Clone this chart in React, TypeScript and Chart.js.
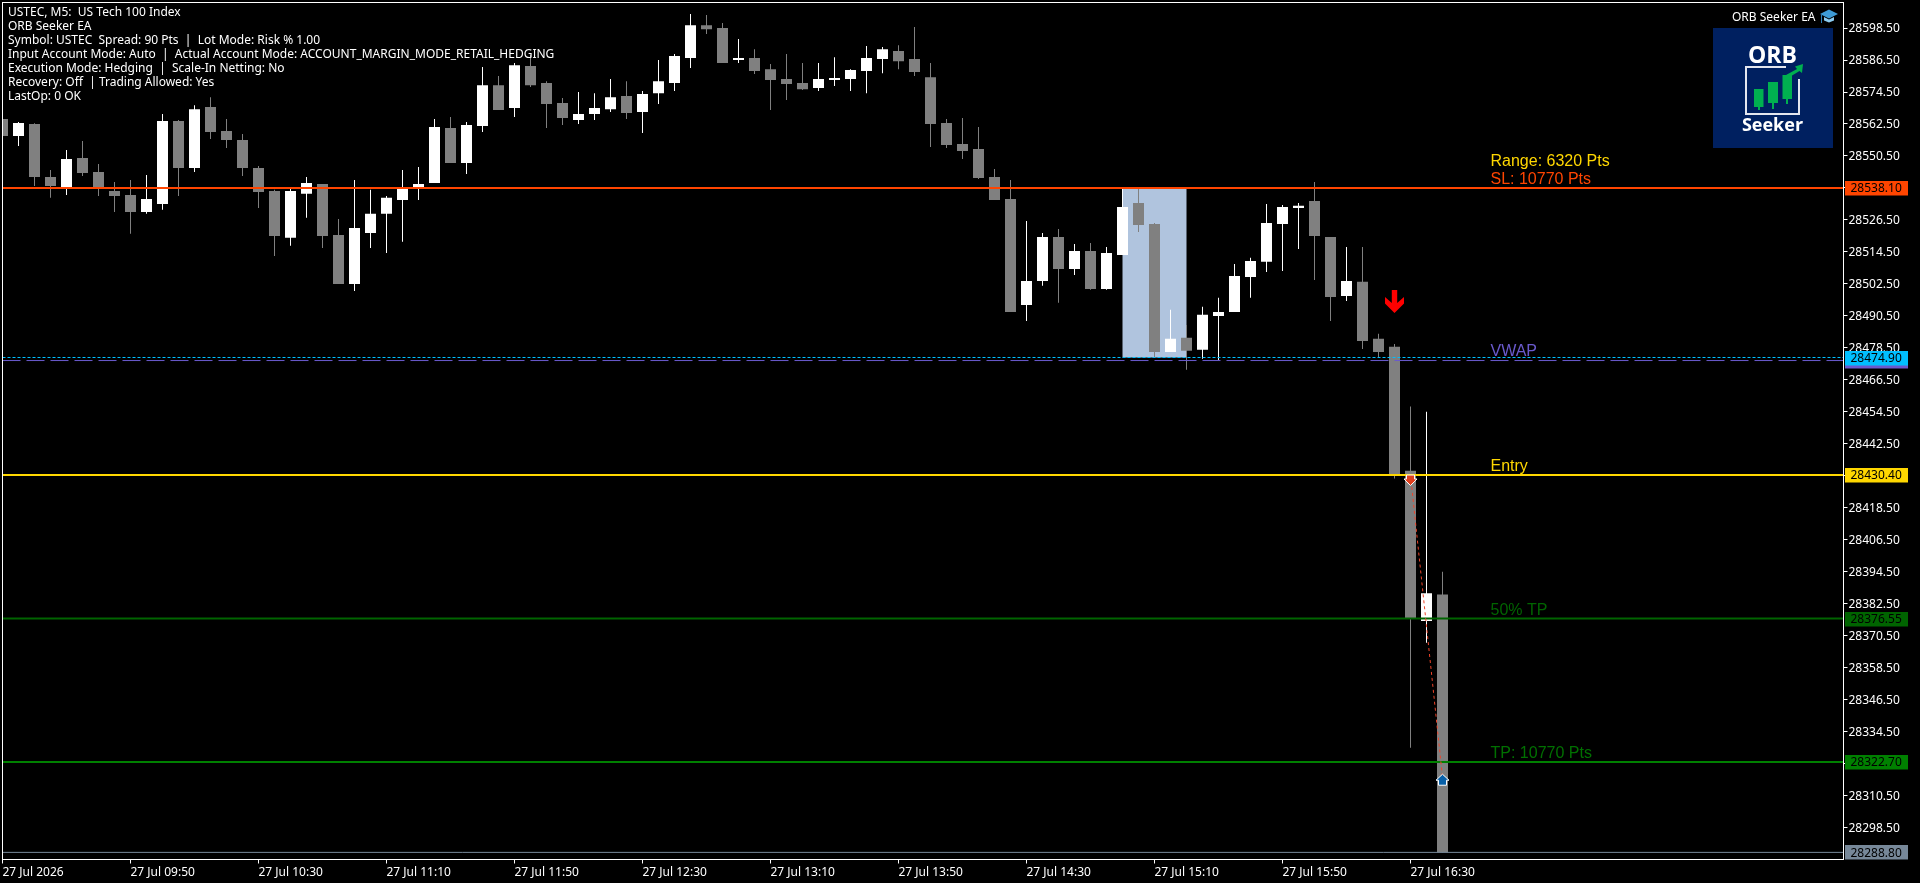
import React, { useEffect, useRef } from "react";
import { Chart, registerables } from "chart.js";

Chart.register(...registerables);

const opens = [28564.0,28557.6,28562.1,28542.2,28538.5,28549.4,28544.1,28537.0,28535.5,28529.1,28532.1,28563.2,28545.6,28568.5,28559.5,28556.1,28545.6,28537.0,28519.4,28535.9,28539.6,28520.5,28502.1,28521.2,28528.4,28533.6,28537.7,28540.0,28560.6,28547.5,28561.4,28576.7,28568.1,28583.9,28577.5,28570.0,28563.6,28565.9,28567.7,28572.6,28566.6,28573.7,28577.5,28586.9,28599.2,28598.1,28586.1,28586.9,28582.7,28579.0,28577.5,28575.6,28578.6,28579.0,28582.0,28586.5,28589.5,28586.5,28579.7,28562.5,28554.6,28552.7,28542.2,28534.0,28494.2,28503.2,28519.7,28507.7,28514.5,28500.2,28513.0,28532.5,28524.6,28476.6,28481.9,28477.4,28490.1,28491.6,28504.7,28510.4,28524.6,28530.6,28533.2,28519.7,28497.6,28502.9,28481.5,28478.5,28432.0,28375.6,28385.6];
const highs = [28564.0,28562.9,28562.4,28544.9,28552.4,28555.7,28547.1,28540.4,28541.1,28543.0,28565.9,28563.6,28569.2,28572.2,28564.0,28558.4,28546.4,28537.4,28537.7,28542.2,28539.6,28526.5,28541.1,28537.4,28535.1,28544.9,28546.0,28564.0,28564.7,28562.9,28583.5,28580.1,28585.0,28588.0,28578.2,28571.9,28574.1,28573.7,28579.0,28578.2,28574.5,28586.1,28588.4,28603.4,28603.0,28600.0,28594.0,28590.2,28584.6,28588.4,28585.0,28585.0,28587.2,28582.7,28591.4,28591.0,28591.7,28598.5,28585.0,28564.0,28564.4,28561.0,28545.2,28541.1,28525.7,28521.2,28522.7,28517.1,28517.5,28516.0,28538.1,28538.1,28525.0,28492.4,28486.7,28493.5,28496.9,28509.6,28511.9,28532.1,28531.7,28532.5,28540.4,28519.7,28516.0,28516.0,28483.4,28479.6,28456.1,28454.1,28394.1];
const lows = [28557.6,28553.9,28538.9,28534.4,28535.5,28542.6,28535.1,28529.1,28520.9,28528.4,28529.9,28535.1,28544.1,28556.5,28553.1,28542.6,28530.6,28512.6,28516.4,28526.9,28515.6,28502.1,28499.5,28515.6,28513.7,28517.9,28533.6,28540.0,28547.5,28543.4,28559.1,28567.4,28564.7,28576.0,28560.6,28561.7,28562.1,28563.6,28566.6,28564.0,28558.7,28569.6,28574.5,28583.1,28595.9,28585.0,28585.0,28580.9,28567.4,28571.1,28574.9,28574.5,28576.4,28574.5,28573.7,28581.2,28582.7,28580.1,28553.5,28553.1,28549.0,28541.5,28533.6,28491.6,28488.2,28501.4,28495.0,28505.5,28499.9,28499.9,28513.0,28521.6,28474.7,28476.6,28469.9,28474.0,28473.6,28491.6,28496.9,28506.6,28507.0,28515.2,28503.6,28488.2,28495.7,28477.7,28474.4,28429.1,28328.1,28367.5,28288.8];
const closes = [28557.6,28562.5,28542.2,28538.9,28549.0,28543.7,28538.5,28535.1,28529.1,28534.0,28563.2,28545.6,28567.7,28559.1,28556.1,28545.6,28536.6,28520.1,28537.0,28540.0,28520.1,28502.1,28523.1,28528.4,28534.4,28537.7,28539.6,28561.0,28547.5,28561.7,28576.7,28567.4,28584.2,28576.7,28569.6,28564.4,28565.9,28568.1,28572.2,28566.2,28573.4,28578.2,28587.6,28599.2,28597.7,28585.0,28586.9,28582.0,28578.6,28577.1,28575.2,28579.0,28579.4,28582.4,28586.9,28590.2,28585.7,28581.6,28562.1,28554.2,28552.0,28541.9,28533.6,28491.6,28503.2,28519.7,28507.7,28514.5,28500.2,28513.7,28531.0,28524.2,28476.6,28481.5,28477.0,28490.5,28491.6,28505.1,28510.7,28525.0,28531.0,28531.4,28520.1,28497.2,28503.2,28480.7,28476.6,28430.6,28376.6,28386.0,28288.8];

const xTickIndex = [0, 8, 16, 24, 32, 40, 48, 56, 64, 72, 80, 88];
const xTickLabels = ["27 Jul 2026","27 Jul 09:50","27 Jul 10:30","27 Jul 11:10","27 Jul 11:50","27 Jul 12:30","27 Jul 13:10","27 Jul 13:50","27 Jul 14:30","27 Jul 15:10","27 Jul 15:50","27 Jul 16:30"];
const yTickValues = [28298.5,28310.5,28322.5,28334.5,28346.5,28358.5,28370.5,28382.5,28394.5,28406.5,28418.5,28430.5,28442.5,28454.5,28466.5,28478.5,28490.5,28502.5,28514.5,28526.5,28538.5,28550.5,28562.5,28574.5,28586.5,28598.5];

const slPrice = 28538.1;
const vwapPrice = 28473.36;
const rangeLowPrice = 28474.5;
const entryPrice = 28430.4;
const halfTpPrice = 28376.55;
const tpPrice = 28322.7;
const lastPrice = 28288.8;
const exitPrice = 28317.0;
const signalArrowPrice = 28499.8;
const rangeBarIndex = 72;
const signalIndex = 87;
const entryIndex = 88;
const exitIndex = 90;

const infoLines = [
  "USTEC, M5:  US Tech 100 Index",
  "ORB Seeker EA",
  "Symbol: USTEC  Spread: 90 Pts  |  Lot Mode: Risk % 1.00",
  "Input Account Mode: Auto  |  Actual Account Mode: ACCOUNT_MARGIN_MODE_RETAIL_HEDGING",
  "Execution Mode: Hedging  |  Scale-In Netting: No",
  "Recovery: Off  | Trading Allowed: Yes",
  "LastOp: 0 OK",
];

const levelTexts = [
  { text: "Range: 6320 Pts", color: "#FFD700", y: 161.5 },
  { text: "SL: 10770 Pts", color: "#FF4500", y: 179.5 },
  { text: "VWAP", color: "#6A5ACD", y: 351.5 },
  { text: "Entry", color: "#FFD700", y: 466.5 },
  { text: "50% TP", color: "#006400", y: 610.5 },
  { text: "TP: 10770 Pts", color: "#007000", y: 753.5 },
];

const priceTags = [
  { text: "", price: vwapPrice, bg: "#6A5ACD" },
  { text: "28538.10", price: slPrice, bg: "#FF4500" },
  { text: "28474.90", price: rangeLowPrice, bg: "#00BFFF" },
  { text: "28430.40", price: entryPrice, bg: "#FFD700" },
  { text: "28376.55", price: halfTpPrice, bg: "#006400" },
  { text: "28322.70", price: tpPrice, bg: "#008000" },
  { text: "28288.80", price: lastPrice, bg: "#778899" },
];

const UI_FONT = '"Noto Sans", sans-serif';
const WHITE = "#FFFFFF";
const GREY = "#808080";

const poly = (ctx: CanvasRenderingContext2D, pts: number[][]) => {
  ctx.beginPath();
  pts.forEach(([a, b], i) => (i ? ctx.lineTo(a, b) : ctx.moveTo(a, b)));
  ctx.closePath();
};

const overlay = {
  id: "overlay",
  afterDraw(chart: any) {
    const { ctx, chartArea: ca, scales } = chart;
    const X = (v: number) => scales.x.getPixelForValue(v);
    const Y = (v: number) => scales.y.getPixelForValue(v);
    ctx.save();

    // signal arrow
    const sx = X(signalIndex);
    const sy = Y(signalArrowPrice);
    ctx.fillStyle = "#FF0000";
    poly(ctx, [[sx - 2.7, sy], [sx + 2.7, sy], [sx + 2.7, sy + 13], [sx + 9.5, sy + 7], [sx + 9.5, sy + 13.5], [sx, sy + 23], [sx - 9.5, sy + 13.5], [sx - 9.5, sy + 7], [sx - 2.7, sy + 13]]);
    ctx.fill();

    // entry marker
    const ex = X(entryIndex);
    const ey = Y(entryPrice);
    ctx.fillStyle = "#E0401F";
    ctx.strokeStyle = WHITE;
    ctx.lineWidth = 1;
    poly(ctx, [[ex - 4, ey], [ex + 4, ey], [ex + 4, ey + 4], [ex + 6.5, ey + 4], [ex, ey + 10.5], [ex - 6.5, ey + 4], [ex - 4, ey + 4]]);
    ctx.fill();
    ctx.stroke();

    // exit marker
    const xx = X(exitIndex);
    const xy = Y(exitPrice) - 3;
    ctx.fillStyle = "#0860A8";
    poly(ctx, [[xx, xy], [xx + 6.5, xy + 6], [xx + 4, xy + 6], [xx + 4, xy + 11], [xx - 4, xy + 11], [xx - 4, xy + 6], [xx - 6.5, xy + 6]]);
    ctx.fill();
    ctx.stroke();

    // plot frame
    ctx.strokeStyle = WHITE;
    ctx.lineWidth = 1;
    ctx.strokeRect(ca.left, ca.top, ca.right - ca.left, ca.bottom - ca.top);

    // price tags
    ctx.textBaseline = "middle";
    ctx.textAlign = "left";
    ctx.font = `12px ${UI_FONT}`;
    priceTags.forEach((t) => {
      const y = Y(t.price);
      ctx.fillStyle = t.bg;
      ctx.fillRect(1845, Math.round(y) - 7, 63, 14.5);
      if (t.text) {
        ctx.fillStyle = "#000000";
        ctx.fillText(t.text, 1850.5, y + 1);
      }
    });

    // info block
    ctx.fillStyle = WHITE;
    infoLines.forEach((line, i) => ctx.fillText(line, 8, 12.5 + 14 * i));
    ctx.fillText("ORB Seeker EA", 1732, 17.5);

    // graduation cap
    ctx.fillStyle = "#3E9BD6";
    poly(ctx, [[1820, 14], [1829, 9.5], [1838, 14], [1829, 18.5]]);
    ctx.fill();
    ctx.fillStyle = "#8CCBEF";
    poly(ctx, [[1824, 17], [1829, 19.5], [1834, 17], [1834, 20.5], [1829, 22.5], [1824, 20.5]]);
    ctx.fill();
    ctx.fillStyle = "#2C7FB8";
    ctx.fillRect(1821, 15, 1, 8);

    // level captions
    ctx.font = '16px "Liberation Sans", sans-serif';
    levelTexts.forEach((t) => {
      ctx.fillStyle = t.color;
      ctx.fillText(t.text, 1490.5, t.y);
    });

    // logo
    ctx.fillStyle = "#002060";
    ctx.fillRect(1713, 28, 120, 120);
    ctx.fillStyle = WHITE;
    ctx.textAlign = "center";
    ctx.font = 'bold 23px "Open Sans", sans-serif';
    ctx.fillText("ORB", 1772.5, 56);
    ctx.font = 'bold 18px "Open Sans", sans-serif';
    ctx.fillText("Seeker", 1772.5, 126);
    ctx.strokeStyle = "#E4E6EE";
    ctx.lineWidth = 2;
    ctx.beginPath();
    ctx.moveTo(1786, 67);
    ctx.lineTo(1746, 67);
    ctx.lineTo(1746, 114);
    ctx.lineTo(1799, 114);
    ctx.lineTo(1799, 79);
    ctx.stroke();
    ctx.fillStyle = "#00B050";
    ctx.fillRect(1754, 89, 9.5, 18);
    ctx.fillRect(1758, 107, 2, 3);
    ctx.fillRect(1768, 82, 10, 21);
    ctx.fillRect(1772, 103, 2, 6);
    ctx.fillRect(1782.5, 75, 9.5, 24);
    ctx.fillRect(1786, 99, 2, 5);
    poly(ctx, [[1786, 75], [1797, 69], [1795, 66.5], [1803, 64], [1802, 73], [1799.5, 71], [1788, 78]]);
    ctx.fill();

    ctx.restore();
  },
};

export default function App() {
  const ref = useRef<HTMLCanvasElement | null>(null);

  useEffect(() => {
    const idx = opens.map((_, i) => i);
    const colors = idx.map((i) => (closes[i] > opens[i] ? WHITE : GREY));
    const xEnd = 115.0625;
    const levelLine = (price: number, color: string, width: number, dash: number[] = []) => ({
      type: "line",
      data: [{ x: 0, y: price }, { x: xEnd, y: price }],
      borderColor: color,
      borderWidth: width,
      borderDash: dash,
      pointRadius: 0,
      order: 10,
    });

    const chart = new Chart(ref.current as HTMLCanvasElement, {
      type: "bar",
      data: {
        datasets: [
          {
            type: "bar",
            data: [{ x: rangeBarIndex, y: [rangeLowPrice, slPrice] }],
            backgroundColor: "#B0C4DE",
            barThickness: 64,
            grouped: false,
            inflateAmount: 0,
            order: 100,
          },
          {
            type: "bar",
            data: idx.map((i) => ({ x: i, y: [lows[i], highs[i]] })),
            backgroundColor: colors,
            barThickness: 1,
            grouped: false,
            inflateAmount: 0,
            order: 90,
          },
          {
            type: "bar",
            data: idx.map((i) => ({ x: i, y: [opens[i], closes[i]] })),
            backgroundColor: colors,
            barThickness: 11,
            grouped: false,
            inflateAmount: 0,
            order: 80,
          },
          levelLine(slPrice, "#FF4500", 2),
          levelLine(rangeLowPrice, "#00BFFF", 1, [3, 2]),
          levelLine(vwapPrice, "#6A5ACD", 1, [18, 6]),
          levelLine(entryPrice, "#FFD700", 2),
          levelLine(halfTpPrice, "#006400", 2),
          levelLine(tpPrice, "#008000", 2),
          levelLine(lastPrice, "#778899", 1),
          {
            type: "line",
            data: [{ x: entryIndex, y: entryPrice }, { x: exitIndex, y: exitPrice }],
            borderColor: "#F0452A",
            borderWidth: 1,
            borderDash: [3, 3],
            pointRadius: 0,
            order: 5,
          },
        ] as any,
      },
      options: {
        animation: false,
        responsive: false,
        devicePixelRatio: 1,
        parsing: { xAxisKey: "x", yAxisKey: "y" } as any,
        layout: { padding: { left: 2.5, top: 2.5, right: 0, bottom: 0 } },
        plugins: { legend: { display: false }, tooltip: { enabled: false } },
        scales: {
          x: {
            type: "linear",
            offset: false,
            min: 0,
            max: xEnd,
            border: { display: false },
            grid: { offset: false, drawOnChartArea: false, color: WHITE, tickLength: 4, tickColor: WHITE } as any,
            ticks: {
              autoSkip: false,
              maxRotation: 0,
              minRotation: 0,
              align: "start",
              padding: 2,
              color: WHITE,
              font: { family: UI_FONT, size: 12 },
              callback: (_v: any, i: number) => xTickLabels[i],
            },
            afterBuildTicks: (a: any) => {
              a.ticks = xTickIndex.map((v) => ({ value: v }));
            },
            afterFit: (s: any) => {
              s.height = 23.5;
              s.paddingLeft = 0;
              s.paddingRight = 0;
            },
          },
          y: {
            type: "linear",
            position: "right",
            min: 28286.13,
            max: 28607.71,
            border: { display: false },
            grid: { drawOnChartArea: false, color: WHITE, tickLength: 4, tickColor: WHITE } as any,
            ticks: {
              autoSkip: false,
              padding: 1,
              labelOffset: 1,
              color: WHITE,
              font: { family: UI_FONT, size: 12 },
              callback: (_v: any, i: number) => yTickValues[i].toFixed(2),
            },
            afterBuildTicks: (a: any) => {
              a.ticks = yTickValues.map((v) => ({ value: v - 0.375 }));
            },
            afterFit: (s: any) => {
              s.width = 76.5;
              s.paddingTop = 0;
              s.paddingBottom = 0;
            },
          },
        },
      } as any,
      plugins: [overlay],
    } as any);
    return () => chart.destroy();
  }, []);

  return (
    <div style={{ position: "fixed", left: 0, top: 0, width: 1920, height: 883, background: "#000", overflow: "hidden" }}>
      <canvas ref={ref} width={1920} height={883} style={{ display: "block", width: 1920, height: 883 }} />
    </div>
  );
}
